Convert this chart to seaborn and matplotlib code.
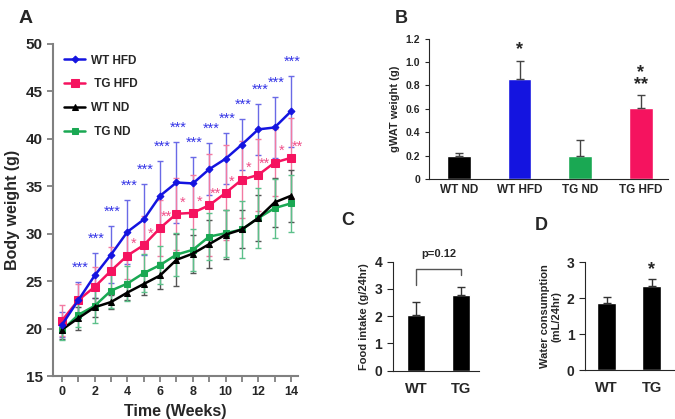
import numpy as np
import pandas as pd
import seaborn as sns
import matplotlib
matplotlib.use("Agg")
import matplotlib.pyplot as plt
from matplotlib.ticker import MultipleLocator

# panel A - body weight over time
weeks = list(range(15))
wt_hfd = [20.4, 23.0, 25.6, 27.8, 30.2, 31.5, 34.0, 35.4, 35.3, 36.8, 37.9, 39.4, 41.0, 41.2, 42.9]
wt_hfd_err = [1.3, 1.9, 2.4, 3.0, 3.4, 3.7, 3.7, 4.3, 2.75, 2.75, 2.7, 2.7, 2.7, 3.2, 3.75]
tg_hfd = [20.85, 23.0, 24.4, 26.1, 27.7, 28.8, 30.6, 32.1, 32.2, 33.0, 34.3, 35.7, 36.2, 37.5, 38.0]
tg_hfd_err = [1.65, 1.7, 2.1, 2.5, 2.5, 3.1, 3.0, 3.8, 4.0, 5.4, 5.0, 4.05, 3.8, 3.5, 4.2]
wt_nd = [19.9, 21.1, 22.25, 22.8, 23.8, 24.7, 25.6, 27.25, 27.9, 28.9, 29.9, 30.45, 31.65, 33.3, 34.0]
wt_nd_err = [1.0, 1.2, 1.0, 0.7, 0.8, 1.2, 1.4, 2.75, 2.0, 2.5, 2.6, 2.0, 2.4, 2.6, 2.75]
tg_nd = [19.8, 21.45, 22.4, 24.0, 24.75, 25.85, 26.7, 27.8, 28.3, 29.7, 30.05, 30.45, 31.65, 32.7, 33.2]
tg_nd_err = [1.0, 1.3, 1.8, 1.8, 1.8, 2.0, 2.0, 2.3, 2.2, 2.5, 2.5, 3.0, 3.2, 3.1, 3.0]
wt_hfd_stars = ["", "***", "***", "***", "***", "***", "***", "***", "***", "***", "***", "***", "***", "***", "***"]
tg_hfd_stars = ["", "", "", "", "*", "*", "**", "*", "*", "**", "*", "*", "**", "*", "**"]

# panel B - gWAT weight
b_groups = ["WT ND", "WT HFD", "TG ND", "TG HFD"]
gwat = [0.195, 0.855, 0.2, 0.605]
gwat_err = [0.025, 0.155, 0.13, 0.11]
gwat_stars = ["", "*", "", "*\n**"]

# panels C, D - food and water
cd_groups = ["WT", "TG"]
food = [2.05, 2.77]
food_err = [0.47, 0.31]
water = [1.875, 2.35]
water_err = [0.17, 0.18]

c_blue = "#1414e0"
c_pink = "#f5135f"
c_black = "#000000"
c_green = "#1aa853"

sns.set_style("ticks")
plt.rcParams["font.family"] = ["Liberation Sans", "DejaVu Sans"]
plt.rcParams["font.weight"] = "bold"

fig = plt.figure(figsize=(6.75, 4.19), dpi=100)

# ---------------- A ----------------
axA = fig.add_axes([0.079, 0.1026, 0.3625, 0.7924])
series = [
    ("WT HFD", wt_hfd, wt_hfd_err, c_blue, "#6a6ae6", "D", 3.5),
    (" TG HFD", tg_hfd, tg_hfd_err, c_pink, "#f27aa2", "s", 6),
    ("WT ND", wt_nd, wt_nd_err, c_black, "#555555", "^", 5),
    (" TG ND", tg_nd, tg_nd_err, c_green, "#5cc08a", "s", 4.5),
]
for name, mean, err, col, ecol, mk, ms in series:
    axA.errorbar(weeks, mean, yerr=err, fmt="none", ecolor=ecol, elinewidth=1,
                 capsize=2.5, capthick=1, zorder=1)
for name, mean, err, col, ecol, mk, ms in series[::-1]:
    df = pd.DataFrame({"week": weeks, "weight": mean})
    sns.lineplot(data=df, x="week", y="weight", color=col, marker=mk, markersize=ms,
                 markeredgecolor=col, linewidth=1.8, ax=axA, label=name, zorder=3)

for w, m, e, s in zip(weeks, wt_hfd, wt_hfd_err, wt_hfd_stars):
    if s:
        axA.text(w + 0.1, m + e + 1.5, s, color="#3434e6", fontsize=10.5,
                 fontweight="normal", ha="center", va="center", zorder=5)
for w, m, s in zip(weeks, tg_hfd, tg_hfd_stars):
    if s:
        axA.text(w + 0.4, m + 1.2, s, color="#f0508a", fontsize=10.5,
                 fontweight="normal", ha="center", va="center", zorder=5)

axA.set_xlim(-0.53, 14.43)
axA.set_ylim(15, 50)
axA.xaxis.set_major_locator(MultipleLocator(2))
axA.xaxis.set_minor_locator(MultipleLocator(1))
axA.yaxis.set_major_locator(MultipleLocator(5))
axA.tick_params(axis="both", which="major", length=4, width=1.3, color="#808080")
axA.tick_params(axis="x", which="minor", length=4, width=1.3, color="#808080")
axA.tick_params(axis="y", labelsize=11)
axA.tick_params(axis="x", labelsize=9)
for sp in ["left", "bottom"]:
    axA.spines[sp].set_color("#808080")
    axA.spines[sp].set_linewidth(1.5)
sns.despine(ax=axA)
axA.set_xlabel("Time (Weeks)", fontsize=11.5, fontweight="bold")
axA.set_ylabel("Body weight (g)", fontsize=11.5, fontweight="bold")
handles, labels = axA.get_legend_handles_labels()
order = [labels.index(n) for n in ["WT HFD", " TG HFD", "WT ND", " TG ND"]]
axA.legend([handles[i] for i in order], [labels[i] for i in order], loc="upper left",
           frameon=False, fontsize=8.5, labelspacing=1.0, handlelength=1.8,
           handletextpad=0.5, bbox_to_anchor=(0.0, 1.0))
fig.text(0.028, 0.975, "A", fontsize=14, fontweight="bold", va="top")

# ---------------- B ----------------
axB = fig.add_axes([0.636, 0.5728, 0.354, 0.3352])
sns.barplot(x=b_groups, y=gwat, hue=b_groups, palette=[c_black, c_blue, c_green, c_pink],
            width=0.39, legend=False, ax=axB, saturation=1)
axB.errorbar(range(4), gwat, yerr=[np.zeros(4), gwat_err], fmt="none", ecolor="#444444",
             elinewidth=1, capsize=3, capthick=1)
for i, (m, e, s) in enumerate(zip(gwat, gwat_err, gwat_stars)):
    if s:
        axB.text(i, m + e + 0.02, s, fontsize=13, fontweight="bold", ha="center",
                 va="bottom", linespacing=0.6)
axB.set_xlim(-0.49, 3.45)
axB.set_ylim(0, 1.2)
axB.set_yticks([0, 0.2, 0.4, 0.6, 0.8, 1.0, 1.2])
axB.set_yticklabels(["0", "0.2", "0.4", "0.6", "0.8", "1.0", "1.2"])
axB.tick_params(axis="y", labelsize=7.5, length=3)
axB.tick_params(axis="x", labelsize=8.5, length=0)
axB.set_ylabel("gWAT weight (g)", fontsize=8, fontweight="bold")
sns.despine(ax=axB)
fig.text(0.585, 0.975, "B", fontsize=13, fontweight="bold", va="top")

# ---------------- C ----------------
axC = fig.add_axes([0.5818, 0.1153, 0.1279, 0.2601])
sns.barplot(x=cd_groups, y=food, color="black", width=0.41, ax=axC, saturation=1)
axC.errorbar(range(2), food, yerr=[np.zeros(2), food_err], fmt="none", ecolor="#333333",
             elinewidth=1, capsize=3, capthick=1)
axC.plot([0, 0, 1, 1], [3.14, 3.73, 3.73, 3.51], color="#555555", linewidth=1)
axC.text(0.5, 4.3, "p=0.12", fontsize=8, fontweight="bold", ha="center", va="center")
axC.set_xlim(-0.52, 1.4)
axC.set_ylim(0, 4)
axC.set_yticks([0, 1, 2, 3, 4])
axC.tick_params(axis="y", labelsize=10, length=4)
axC.tick_params(axis="x", labelsize=10.5, length=0, pad=8)
axC.set_ylabel("Food intake (g/24hr)", fontsize=8, fontweight="bold")
sns.despine(ax=axC)
fig.text(0.505, 0.495, "C", fontsize=13, fontweight="bold", va="top")

# ---------------- D ----------------
axD = fig.add_axes([0.8667, 0.1169, 0.1333, 0.257])
sns.barplot(x=cd_groups, y=water, color="black", width=0.41, ax=axD, saturation=1)
axD.errorbar(range(2), water, yerr=[np.zeros(2), water_err], fmt="none", ecolor="#333333",
             elinewidth=1, capsize=3, capthick=1)
axD.text(1, water[1] + water_err[1] + 0.02, "*", fontsize=13, fontweight="bold",
         ha="center", va="bottom")
axD.set_xlim(-0.48, 1.52)
axD.set_ylim(0, 3)
axD.set_yticks([0, 1, 2, 3])
axD.tick_params(axis="y", labelsize=10, length=4)
axD.tick_params(axis="x", labelsize=10.5, length=0, pad=8)
axD.set_ylabel("Water consumption\n(mL/24hr)", fontsize=8, fontweight="bold")
sns.despine(ax=axD)
fig.text(0.792, 0.482, "D", fontsize=13, fontweight="bold", va="top")

fig.savefig("out.png", dpi=100)
